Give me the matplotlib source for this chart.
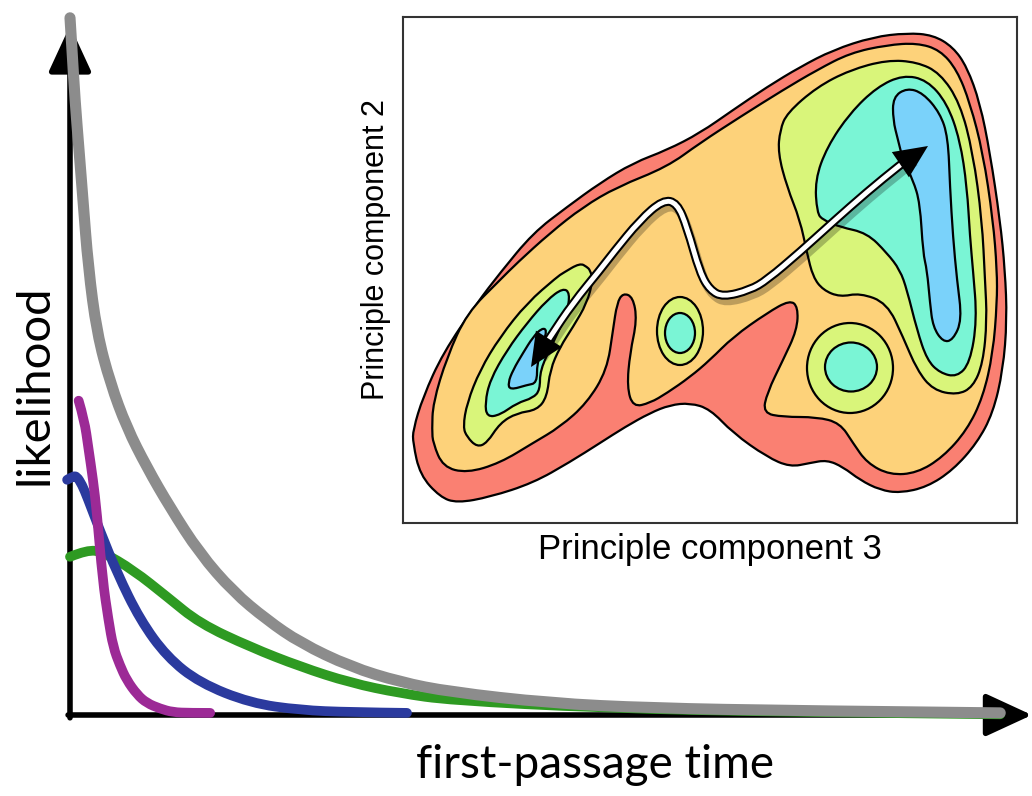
import matplotlib.pyplot as plt
import matplotlib.patheffects as pe
from matplotlib.patches import Ellipse, PathPatch
from matplotlib.path import Path

# ---- first-passage time distributions (time, likelihood) ----
gray_t = [0.0, 0.021, 0.052, 0.094, 0.135, 0.19, 0.28, 0.42, 0.59, 0.8, 1.04, 1.35, 1.7, 2.05, 2.4, 2.92, 3.44, 3.96, 5.0, 6.04, 7.6, 9.69]
gray_l = [0.996, 0.95, 0.879, 0.807, 0.736, 0.64, 0.546, 0.474, 0.411, 0.354, 0.297, 0.231, 0.176, 0.136, 0.103, 0.069, 0.047, 0.033, 0.017, 0.01, 0.006, 0.003]

purple_t = [0.09, 0.15, 0.19, 0.24, 0.28, 0.34, 0.4, 0.45, 0.52, 0.59, 0.7, 0.8, 0.94, 1.07, 1.25, 1.46]
purple_l = [0.449, 0.421, 0.383, 0.336, 0.289, 0.193, 0.136, 0.097, 0.071, 0.05, 0.029, 0.017, 0.009, 0.004, 0.003, 0.003]

blue_t = [-0.03, 0.03, 0.07, 0.125, 0.18, 0.31, 0.49, 0.73, 1.01, 1.35, 1.88, 2.4, 2.92, 3.51]
blue_l = [0.336, 0.341, 0.341, 0.329, 0.311, 0.264, 0.203, 0.136, 0.083, 0.046, 0.017, 0.007, 0.004, 0.003]

green_t = [0.0, 0.18, 0.34, 0.66, 1.01, 1.35, 1.88, 2.4, 2.92, 3.44, 3.96, 5.52, 7.6, 9.69]
green_l = [0.226, 0.236, 0.233, 0.207, 0.169, 0.131, 0.097, 0.069, 0.046, 0.031, 0.021, 0.01, 0.004, 0.001]

# ---- inset landscape outlines (inset coords, y down) ----
red_outline = [(413,443),(420,475),(440,497),(457,503),(490,497),(533,483),(570,462),(600,443),(625,427),(650,413),(670,405),(690,403),(710,409),(733,433),(767,457),(790,467),(810,463),(827,460),(843,467),(860,480),(880,490),(900,493),(927,487),(953,470),(977,443),(993,413),(1003,370),(1007,320),(1005,270),(1000,220),(990,153),(980,103),(967,67),(953,47),(933,35),(907,33),(873,37),(833,50),(800,67),(767,87),(733,110),(700,133),(667,150),(633,163),(600,183),(567,207),(533,233),(500,273),(477,303),(443,353),(423,397),(413,430)]
orange_outline = [(432,430),(433,443),(443,467),(467,473),(500,463),(533,443),(560,427),(587,403),(607,370),(613,330),(617,303),(623,293),(633,297),(637,320),(630,353),(627,387),(633,407),(650,403),(667,393),(690,377),(710,360),(733,337),(767,313),(790,300),(798,307),(797,330),(783,360),(767,393),(763,413),(783,417),(817,417),(840,423),(853,443),(867,463),(890,475),(917,473),(943,457),(967,430),(983,397),(993,353),(997,303),(997,270),(993,220),(983,153),(970,103),(957,70),(940,50),(917,43),(887,45),(850,53),(817,70),(783,90),(740,117),(700,143),(667,167),(617,187),(583,207),(550,233),(517,263),(500,280),(467,313),(447,357),(433,403)]
green_left = [(463,427),(467,437),(477,447),(487,443),(500,423),(517,413),(537,410),(547,397),(550,370),(560,347),(573,327),(587,303),(593,280),(590,270),(587,267),(580,263),(563,273),(557,277),(527,303),(500,337),(480,370),(467,403)]
green_right = [(780,130),(787,113),(817,87),(850,70),(887,60),(917,62),(940,73),(960,103),(973,153),(982,220),(985,280),(987,320),(983,363),(973,387),(957,395),(933,390),(917,370),(903,337),(887,303),(860,293),(840,297),(823,290),(813,277),(807,253),(800,220),(787,187),(778,153)]
cyan_left = [(485,403),(487,417),(500,415),(517,403),(533,398),(540,390),(540,370),(553,343),(567,313),(570,293),(563,288),(547,300),(527,323),(507,350),(490,380)]
cyan_right = [(815,180),(827,147),(850,113),(877,87),(903,75),(927,80),(947,103),(960,140),(967,187),(970,237),(973,270),(977,320),(970,363),(957,377),(940,373),(927,360),(917,330),(907,290),(900,270),(887,253),(867,233),(840,227),(823,220),(817,213)]
blue_left = [(508,383),(510,390),(527,385),(537,383),(537,363),(543,343),(547,330),(542,328),(533,337),(523,353),(513,370)]
blue_right = [(898,140),(893,120),(893,97),(907,88),(923,93),(940,113),(948,137),(950,187),(953,237),(957,280),(962,320),(953,340),(943,342),(933,327),(930,303),(927,270),(923,253),(920,203),(913,180),(903,160)]
# (center x, center y, width, height) of the two round wells
ring_small = [(680,331,46,68),(680,333,30,40)]
ring_big = [(850,368,86,90),(851,367,52,49)]

path_x = [540,550,573,600,613,640,663,677,687,700,710,723,750,767,800,833,867,900,912]
path_y = [353,337,303,270,253,220,200,203,227,273,290,297,290,280,252,222,192,165,156]

c_red, c_orange, c_green = '#fa8072', '#fdd27a', '#d9f57a'
c_cyan, c_blue = '#7af5d5', '#7ad2fa'


def bezier(pts, closed=False):
    # quadratic bezier through midpoints, points act as control points
    if closed:
        n = len(pts)
        mid = [((pts[i][0] + pts[(i+1) % n][0]) / 2, (pts[i][1] + pts[(i+1) % n][1]) / 2) for i in range(n)]
        verts = [mid[-1]]
        codes = [Path.MOVETO]
        for i in range(n):
            verts += [pts[i], mid[i]]
            codes += [Path.CURVE3, Path.CURVE3]
        verts.append(mid[-1])
        codes.append(Path.CLOSEPOLY)
        return Path(verts, codes)
    verts = [pts[0]]
    codes = [Path.MOVETO]
    for i in range(1, len(pts) - 1):
        if i == len(pts) - 2:
            end = pts[-1]
        else:
            end = ((pts[i][0] + pts[i+1][0]) / 2, (pts[i][1] + pts[i+1][1]) / 2)
        verts += [pts[i], end]
        codes += [Path.CURVE3, Path.CURVE3]
    return Path(verts, codes)


fig = plt.figure(figsize=(10.32, 7.96), dpi=100)

# main axes, origin at the corner of the arrows
ax = fig.add_axes([70/1032, 81/796, 960/1032, 700/796])
ax.set_xlim(0, 10)
ax.set_ylim(0, 1)
ax.axis('off')

curves = [(green_t, green_l, '#2e9a22', 7), (blue_t, blue_l, '#2b3a9e', 7),
          (purple_t, purple_l, '#9c2a96', 7), (gray_t, gray_l, '#8c8c8c', 8)]
for z, (t, l, c, w) in enumerate(curves):
    ax.add_patch(PathPatch(bezier(list(zip(t, l))), fill=False, edgecolor=c, lw=w,
                           capstyle='round', joinstyle='round', clip_on=False, zorder=3 + z))

arw = dict(arrowstyle='-|>,head_length=1.3,head_width=0.6', color='k', lw=4, mutation_scale=22, shrinkA=0, shrinkB=0)
ax.annotate('', xy=(0, 0.985), xytext=(0, -0.004), arrowprops=arw, zorder=2, annotation_clip=False)
ax.annotate('', xy=(10.02, 0), xytext=(-0.02, 0), arrowprops=arw, zorder=2, annotation_clip=False)

lab_font = ['Lato', 'DejaVu Sans']
fig.text(35/1032, 1-385/796, 'likelihood', rotation=90, ha='center', va='center',
         fontsize=34, family=lab_font, color='black')
fig.text(595/1032, 1-765/796, 'first-passage time', ha='center', va='center',
         fontsize=33, family=lab_font, color='black')

# inset: free-energy landscape on principal components
ins = fig.add_axes([403/1032, 1-523/796, 614/1032, 506/796])
ins.set_xlim(403, 1017)
ins.set_ylim(523, 17)
ins.set_xticks([])
ins.set_yticks([])
for s in ins.spines.values():
    s.set_linewidth(1.5)
    s.set_color('#333333')

edge = dict(edgecolor='k', lw=1.6, joinstyle='round')
ins.add_patch(PathPatch(bezier(red_outline, True), facecolor=c_red, **edge))
ins.add_patch(PathPatch(bezier(orange_outline, True), facecolor=c_orange, **edge))
for pts in [green_left, green_right]:
    ins.add_patch(PathPatch(bezier(pts, True), facecolor=c_green, **edge))
for pts in [cyan_left, cyan_right]:
    ins.add_patch(PathPatch(bezier(pts, True), facecolor=c_cyan, **edge))
for pts in [blue_left, blue_right]:
    ins.add_patch(PathPatch(bezier(pts, True), facecolor=c_blue, **edge))
for ring in [ring_small, ring_big]:
    (x0, y0, w0, h0), (x1, y1, w1, h1) = ring
    ins.add_patch(Ellipse((x0, y0), w0, h0, facecolor=c_green, **edge))
    ins.add_patch(Ellipse((x1, y1), w1, h1, facecolor=c_cyan, **edge))

path_pts = list(zip(path_x, path_y))
shadow = [pe.SimpleLineShadow(offset=(2, -4), shadow_color='k', alpha=0.25), pe.Normal()]
ins.add_patch(PathPatch(bezier(path_pts), fill=False, edgecolor='k', lw=6.5, capstyle='butt', path_effects=shadow))
ins.add_patch(PathPatch(bezier(path_pts), fill=False, edgecolor='white', lw=3.5, capstyle='butt'))
head = dict(arrowstyle='-|>,head_length=1.2,head_width=0.55', color='k', lw=0, mutation_scale=20, shrinkA=0, shrinkB=0)
ins.annotate('', xy=(531, 367), xytext=(path_x[1], path_y[1]), arrowprops=head)
ins.annotate('', xy=(928, 146), xytext=(path_x[-2], path_y[-2]), arrowprops=head)

ins_font = ['Liberation Sans', 'DejaVu Sans']
fig.text(710/1032, 1-550/796, 'Principle component 3', ha='center', va='center', fontsize=25, family=ins_font)
fig.text(376/1032, 1-250/796, 'Principle component 2', rotation=90, ha='center', va='center', fontsize=22, family=ins_font)

fig.savefig('out.png', dpi=100)
